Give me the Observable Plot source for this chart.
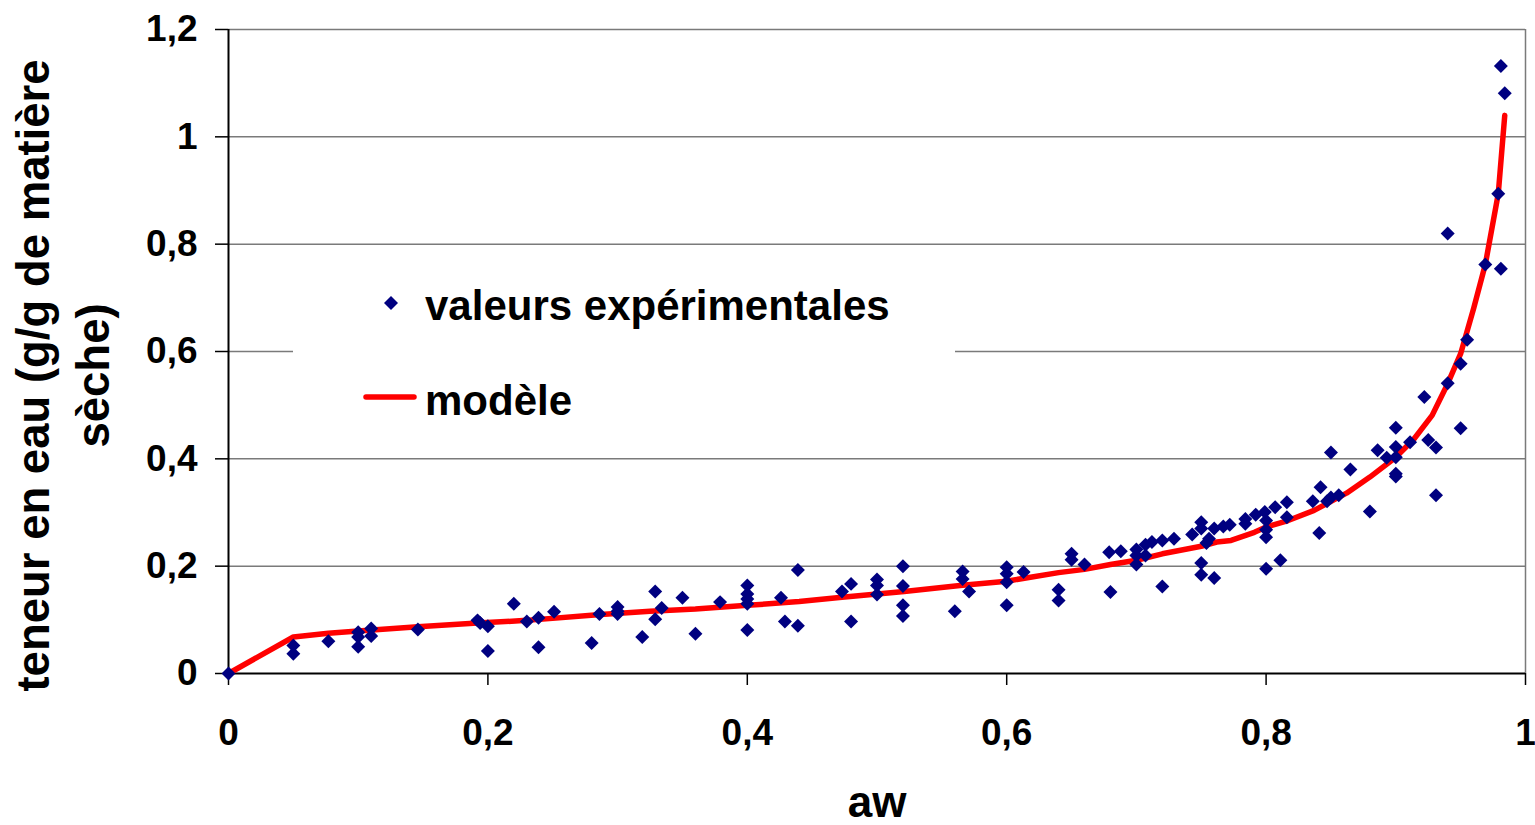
<!DOCTYPE html>
<html><head><meta charset="utf-8">
<script src="https://cdn.jsdelivr.net/npm/d3@7"></script>
<script src="https://cdn.jsdelivr.net/npm/@observablehq/plot@0.6"></script>
<style>
html,body{margin:0;padding:0;background:#fff;overflow:hidden;}
#wrap{position:relative;width:1535px;height:825px;font-family:"Liberation Sans",Arial,sans-serif;font-weight:bold;}
#legend{position:absolute;left:293px;top:262px;}
</style>
</head><body>
<div id="wrap"></div>
<script>
// Experimental values (aw, water content)
const expAw = [0,0.05,0.05,0.077,0.10,0.10,0.10,0.11,0.11,0.146,0.192,0.194,0.20,0.20,0.22,0.23,0.239,0.239,0.251,0.28,0.286,0.30,0.30,0.30,0.319,0.329,0.329,0.334,0.35,0.36,0.379,0.40,0.40,0.40,0.40,0.40,0.426,0.429,0.439,0.439,0.473,0.48,0.48,0.50,0.50,0.50,0.52,0.52,0.52,0.52,0.56,0.566,0.566,0.571,0.60,0.60,0.60,0.60,0.613,0.64,0.64,0.65,0.65,0.66,0.679,0.68,0.688,0.70,0.70,0.70,0.707,0.707,0.712,0.72,0.72,0.729,0.743,0.75,0.75,0.75,0.75,0.754,0.756,0.76,0.76,0.767,0.772,0.784,0.784,0.792,0.799,0.80,0.80,0.80,0.80,0.807,0.811,0.816,0.816,0.836,0.841,0.842,0.847,0.85,0.85,0.856,0.865,0.88,0.886,0.893,0.90,0.90,0.90,0.90,0.90,0.911,0.922,0.925,0.931,0.931,0.94,0.94,0.95,0.95,0.955,0.969,0.979,0.981,0.981,0.984];
const expTeneur = [0,0.052,0.037,0.060,0.077,0.068,0.050,0.084,0.070,0.082,0.099,0.094,0.088,0.042,0.130,0.097,0.104,0.049,0.115,0.057,0.111,0.124,0.116,0.111,0.068,0.153,0.101,0.122,0.141,0.074,0.133,0.164,0.148,0.139,0.130,0.081,0.141,0.097,0.193,0.089,0.153,0.167,0.097,0.175,0.164,0.147,0.200,0.163,0.127,0.107,0.116,0.190,0.176,0.153,0.198,0.186,0.170,0.127,0.189,0.156,0.136,0.223,0.212,0.203,0.226,0.152,0.228,0.231,0.220,0.203,0.220,0.240,0.245,0.248,0.162,0.251,0.259,0.282,0.270,0.206,0.184,0.243,0.251,0.270,0.178,0.274,0.277,0.288,0.279,0.296,0.301,0.285,0.268,0.254,0.195,0.310,0.211,0.319,0.291,0.321,0.262,0.347,0.321,0.412,0.328,0.332,0.380,0.302,0.416,0.402,0.422,0.403,0.458,0.372,0.367,0.431,0.515,0.435,0.421,0.332,0.541,0.820,0.577,0.457,0.622,0.762,0.894,0.754,1.132,1.081];
// Model curve
const modelAw = [0,0.05,0.077,0.10,0.146,0.192,0.23,0.287,0.325,0.36,0.40,0.44,0.473,0.521,0.564,0.60,0.64,0.66,0.68,0.70,0.72,0.75,0.762,0.773,0.791,0.80,0.817,0.837,0.862,0.88,0.90,0.914,0.928,0.94,0.95,0.96,0.969,0.979,0.984];
const modelTeneur = [0,0.068,0.075,0.079,0.087,0.094,0.099,0.110,0.116,0.120,0.127,0.134,0.142,0.153,0.164,0.172,0.188,0.194,0.203,0.211,0.223,0.237,0.245,0.248,0.263,0.273,0.285,0.304,0.336,0.366,0.403,0.437,0.481,0.540,0.596,0.680,0.762,0.894,1.040];
// Ticks and labels
const xTicks = [0,0.2,0.4,0.6,0.8,1];
const yTicks = [0,0.2,0.4,0.6,0.8,1,1.2];
const xLabel = "aw";
const yLabel = "teneur en eau (g/g de matière\nsèche)";
const seriesNames = ["valeurs expérimentales","modèle"];

const fmt = d => String(d).replace(".", ",");
const expData = expAw.map((x,i)=>({aw:x, w:expTeneur[i]}));
const modelData = modelAw.map((x,i)=>({aw:x, w:modelTeneur[i]}));

const chart = Plot.plot({
  width:1535, height:825,
  marginLeft:228, marginRight:10, marginTop:29, marginBottom:152,
  style:{fontFamily:"'Liberation Sans', Arial, sans-serif", fontWeight:"bold", background:"#fff", overflow:"visible", color:"#000"},
  x:{domain:[0,1]},
  y:{domain:[0,1.2]},
  marks:[
    Plot.gridY(yTicks.slice(1), {stroke:"#7a7a7a", strokeOpacity:1, strokeWidth:1.5}),
    Plot.ruleX([1], {stroke:"#7a7a7a", strokeWidth:1.5}),
    Plot.axisY(yTicks, {tickSize:13, tickPadding:18, tickFormat:fmt, fontSize:37, label:null, strokeWidth:1.5}),
    Plot.axisX(xTicks, {tickSize:12, tickPadding:33, tickFormat:fmt, fontSize:37, label:null, strokeWidth:1.5}),
    Plot.ruleX([0], {stroke:"#000", strokeWidth:2}),
    Plot.ruleY([0], {stroke:"#000", strokeWidth:2}),
    Plot.line(modelData, {x:"aw", y:"w", stroke:"#ff0000", strokeWidth:5.5}),
    Plot.dot(expData, {x:"aw", y:"w", symbol:"diamond2", r:6.3, fill:"#000080"}),
    Plot.text([yLabel], {frameAnchor:"left", text:d=>d, rotate:-90, fontSize:45.5, lineHeight:60/45.5, textAnchor:"middle", lineAnchor:"middle", dx:59-228, dy:375-351}),
    Plot.text([xLabel], {frameAnchor:"bottom", text:d=>d, fontSize:44, textAnchor:"middle", lineAnchor:"bottom", dy:143})
  ]
});
const wrap = document.getElementById("wrap");
wrap.appendChild(chart);

// Legend (white box over the plot)
const ns = "http://www.w3.org/2000/svg";
const lg = document.createElementNS(ns, "svg");
lg.setAttribute("id","legend");
lg.setAttribute("width","662"); lg.setAttribute("height","180");
lg.style.fontFamily = "'Liberation Sans', Arial, sans-serif";
lg.style.fontWeight = "bold";
lg.innerHTML = `<rect x="0" y="0" width="662" height="180" fill="#fff"/>
<path d="M98,34L105,41L98,48L91,41Z" fill="#000080"/>
<text x="132" y="58" font-size="42" fill="#000">${seriesNames[0]}</text>
<line x1="73" x2="121" y1="135" y2="135" stroke="#ff0000" stroke-width="5.5" stroke-linecap="round"/>
<text x="132" y="153" font-size="42" fill="#000">${seriesNames[1]}</text>`;
wrap.appendChild(lg);
</script>
</body></html>
